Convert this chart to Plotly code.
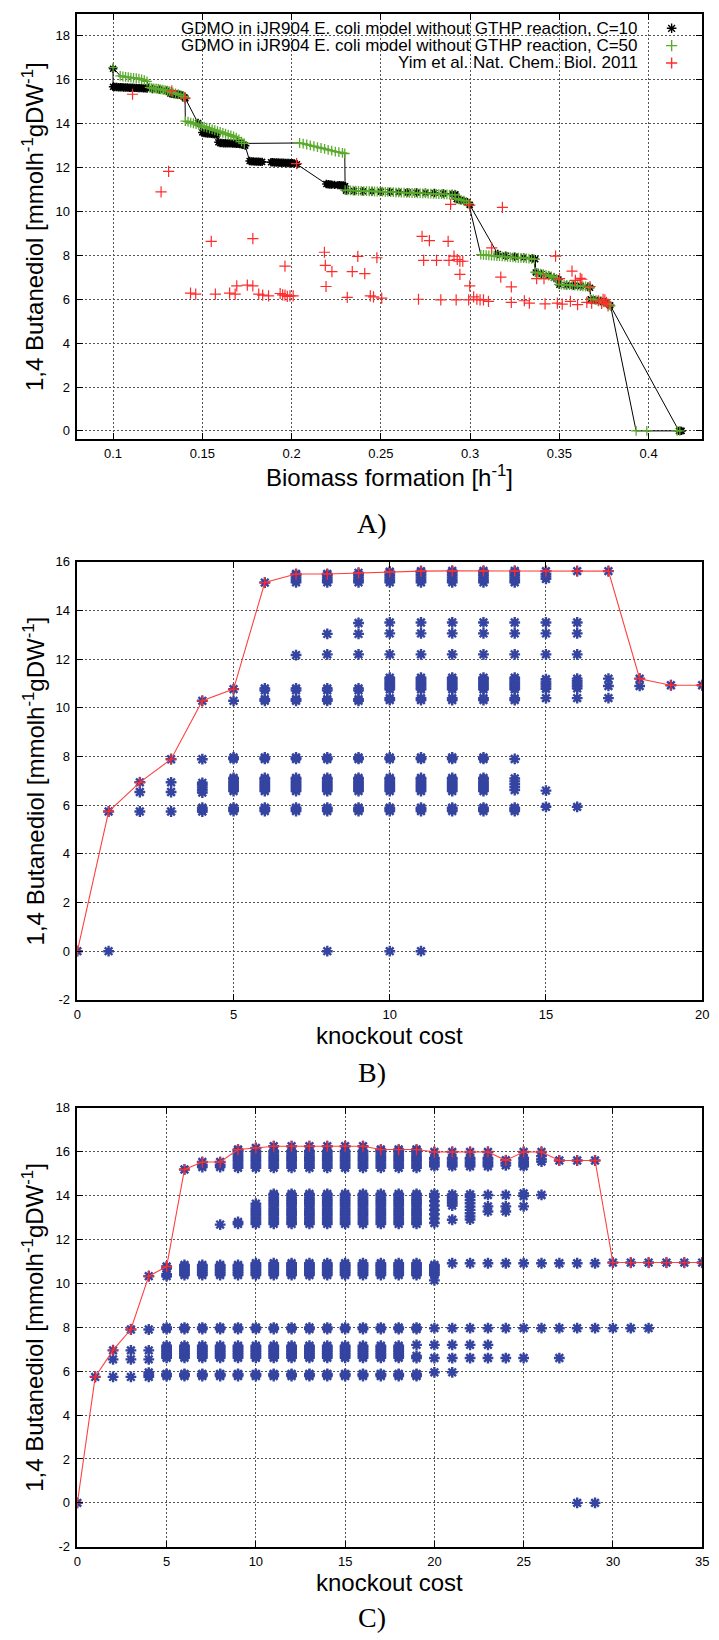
import plotly.graph_objects as go

# ---------------------------------------------------------------
# Panel A: 1,4-butanediol production vs. biomass formation
# (biomass [1/h], butanediol [mmol/h/gDW])
# ---------------------------------------------------------------
c10_front = [
    (0.1000, 16.50), (0.1000, 15.68), (0.1010, 15.67), (0.1020, 15.67), (0.1030, 15.66),
    (0.1040, 15.66), (0.1050, 15.66), (0.1060, 15.65), (0.1070, 15.65), (0.1080, 15.65),
    (0.1090, 15.64), (0.1100, 15.64), (0.1110, 15.64), (0.1120, 15.63), (0.1130, 15.63),
    (0.1140, 15.62), (0.1150, 15.62), (0.1160, 15.62), (0.1170, 15.61), (0.1180, 15.61),
    (0.1190, 15.60), (0.1220, 15.58), (0.1260, 15.55), (0.1300, 15.50),
    (0.1320, 15.38), (0.1330, 15.36), (0.1340, 15.35), (0.1350, 15.34), (0.1360, 15.33),
    (0.1370, 15.32), (0.1380, 15.30), (0.1390, 15.27), (0.1400, 15.20), (0.1405, 15.15),
    (0.1476, 14.03),
    (0.1500, 13.60), (0.1510, 13.57), (0.1520, 13.56), (0.1530, 13.55), (0.1540, 13.55),
    (0.1550, 13.54), (0.1560, 13.53), (0.1570, 13.52), (0.1580, 13.50),
    (0.1590, 13.15), (0.1600, 13.12), (0.1610, 13.12), (0.1620, 13.11), (0.1630, 13.11),
    (0.1640, 13.10), (0.1650, 13.10), (0.1660, 13.10), (0.1670, 13.09), (0.1680, 13.09),
    (0.1690, 13.08), (0.1700, 13.08), (0.1710, 13.07), (0.1720, 13.06), (0.1730, 13.05),
    (0.1740, 13.00),
    (0.1765, 12.30), (0.1775, 12.28), (0.1785, 12.28), (0.1795, 12.27), (0.1805, 12.27),
    (0.1815, 12.27), (0.1825, 12.26), (0.1835, 12.26),
    (0.1885, 12.24), (0.1895, 12.24), (0.1905, 12.23), (0.1915, 12.23), (0.1925, 12.23),
    (0.1935, 12.22), (0.1945, 12.22), (0.1955, 12.22), (0.1965, 12.21), (0.1975, 12.21),
    (0.1985, 12.21), (0.1995, 12.20), (0.2005, 12.20), (0.2015, 12.19), (0.2030, 12.15),
    (0.2195, 11.25), (0.2205, 11.24), (0.2215, 11.23), (0.2225, 11.22), (0.2240, 11.21),
    (0.2260, 11.20), (0.2270, 11.20), (0.2280, 11.19), (0.2290, 11.18), (0.2300, 11.15),
    (0.2305, 10.95), (0.2350, 10.93), (0.2400, 10.92), (0.2450, 10.91), (0.2500, 10.90),
    (0.2550, 10.89), (0.2600, 10.88), (0.2650, 10.87), (0.2700, 10.86), (0.2750, 10.85),
    (0.2800, 10.84), (0.2850, 10.82), (0.2900, 10.80), (0.2918, 10.78),
    (0.2925, 10.56), (0.2945, 10.52), (0.2965, 10.48), (0.2985, 10.42), (0.2998, 10.30),
    (0.3155, 8.06), (0.3200, 7.98), (0.3250, 7.94), (0.3300, 7.90), (0.3350, 7.86), (0.3365, 7.82),
    (0.3368, 7.22), (0.3400, 7.15), (0.3440, 7.08), (0.3470, 6.98), (0.3495, 6.90),
    (0.3500, 6.66), (0.3540, 6.64), (0.3580, 6.62), (0.3620, 6.60), (0.3660, 6.57), (0.3672, 6.52),
    (0.3676, 6.00), (0.3700, 5.96), (0.3730, 5.92), (0.3760, 5.86), (0.3785, 5.72),
    (0.4170, 0.00), (0.4180, 0.00), (0.4185, 0.00),
]

c50_front = [
    (0.1000, 16.55), (0.1040, 16.18), (0.1055, 16.15), (0.1070, 16.13), (0.1085, 16.12),
    (0.1100, 16.10), (0.1115, 16.09), (0.1130, 16.07), (0.1145, 16.05), (0.1160, 16.02),
    (0.1175, 15.98), (0.1190, 15.93),
    (0.1205, 15.65), (0.1215, 15.62), (0.1225, 15.61), (0.1235, 15.60), (0.1245, 15.59),
    (0.1255, 15.58), (0.1265, 15.56), (0.1275, 15.55), (0.1285, 15.53), (0.1295, 15.52),
    (0.1305, 15.50), (0.1315, 15.48), (0.1325, 15.46), (0.1335, 15.42), (0.1350, 15.38),
    (0.1365, 15.34), (0.1380, 15.30), (0.1395, 15.24), (0.1403, 15.18),
    (0.1405, 14.12), (0.1420, 14.09), (0.1435, 14.05), (0.1450, 14.02), (0.1465, 13.98),
    (0.1480, 13.94), (0.1495, 13.90), (0.1510, 13.86), (0.1525, 13.82), (0.1540, 13.78),
    (0.1555, 13.74), (0.1570, 13.70), (0.1585, 13.66), (0.1600, 13.62), (0.1615, 13.58),
    (0.1630, 13.54), (0.1645, 13.50), (0.1660, 13.46), (0.1675, 13.42), (0.1690, 13.36),
    (0.1705, 13.28), (0.1720, 13.18), (0.1735, 13.10),
    (0.2045, 13.12), (0.2065, 13.09), (0.2085, 13.05), (0.2105, 13.01), (0.2125, 12.97),
    (0.2145, 12.93), (0.2165, 12.89), (0.2185, 12.85), (0.2205, 12.81), (0.2225, 12.77),
    (0.2245, 12.73), (0.2265, 12.70), (0.2285, 12.67), (0.2298, 12.64),
    (0.2300, 10.97), (0.2315, 10.96), (0.2330, 10.96), (0.2345, 10.95), (0.2360, 10.95),
    (0.2375, 10.94), (0.2390, 10.94), (0.2405, 10.93), (0.2420, 10.93), (0.2435, 10.92),
    (0.2450, 10.92), (0.2465, 10.91), (0.2480, 10.91), (0.2495, 10.90), (0.2510, 10.90),
    (0.2525, 10.89), (0.2540, 10.89), (0.2555, 10.88), (0.2570, 10.88), (0.2585, 10.87),
    (0.2600, 10.87), (0.2615, 10.86), (0.2630, 10.86), (0.2645, 10.85), (0.2660, 10.85),
    (0.2675, 10.84), (0.2690, 10.84), (0.2705, 10.83), (0.2720, 10.83), (0.2735, 10.82),
    (0.2750, 10.82), (0.2765, 10.81), (0.2780, 10.81), (0.2795, 10.80), (0.2810, 10.80),
    (0.2825, 10.79), (0.2840, 10.79), (0.2855, 10.78), (0.2870, 10.78), (0.2885, 10.77),
    (0.2900, 10.77), (0.2915, 10.76),
    (0.2920, 10.58), (0.2935, 10.55), (0.2950, 10.52), (0.2965, 10.49), (0.2980, 10.44),
    (0.2992, 10.36),
    (0.3060, 8.03), (0.3075, 8.02), (0.3090, 8.01), (0.3105, 8.00), (0.3120, 7.99),
    (0.3135, 7.98), (0.3150, 7.97), (0.3165, 7.96), (0.3180, 7.95), (0.3195, 7.94),
    (0.3210, 7.93), (0.3225, 7.92), (0.3240, 7.91), (0.3255, 7.90), (0.3270, 7.89),
    (0.3285, 7.88), (0.3300, 7.87), (0.3315, 7.86), (0.3330, 7.85), (0.3345, 7.84),
    (0.3360, 7.82),
    (0.3365, 7.23), (0.3380, 7.20), (0.3395, 7.17), (0.3410, 7.14), (0.3425, 7.11),
    (0.3440, 7.08), (0.3455, 7.04), (0.3470, 6.98), (0.3485, 6.92),
    (0.3497, 6.68), (0.3512, 6.67), (0.3527, 6.66), (0.3542, 6.65), (0.3557, 6.64),
    (0.3572, 6.63), (0.3587, 6.62), (0.3602, 6.61), (0.3617, 6.60), (0.3632, 6.59),
    (0.3647, 6.58), (0.3662, 6.56), (0.3672, 6.53),
    (0.3675, 6.02), (0.3690, 5.99), (0.3705, 5.96), (0.3720, 5.93), (0.3735, 5.90),
    (0.3750, 5.86), (0.3765, 5.81), (0.3780, 5.75), (0.3787, 5.70),
    (0.3930, 0.00), (0.3990, 0.00), (0.4160, 0.00), (0.4175, 0.00),
]

yim_points = [
    (0.1109, 15.34), (0.1329, 15.49), (0.1403, 15.16), (0.1311, 11.83), (0.1269, 10.89),
    (0.1550, 8.64), (0.1783, 8.76), (0.2028, 12.18), (0.2184, 8.14), (0.2189, 7.54),
    (0.2226, 7.26), (0.2340, 7.26), (0.2371, 7.95), (0.2410, 7.17), (0.2478, 7.89),
    (0.1963, 7.51),
    (0.1434, 6.28), (0.1463, 6.23), (0.1573, 6.23), (0.1653, 6.28), (0.1684, 6.23),
    (0.1693, 6.61), (0.1752, 6.64), (0.1783, 6.61), (0.1816, 6.23), (0.1838, 6.19),
    (0.1871, 6.15), (0.1936, 6.26), (0.1950, 6.20), (0.1963, 6.19), (0.1976, 6.13),
    (0.1991, 6.15), (0.2009, 6.15), (0.2193, 6.58), (0.2312, 6.08), (0.2441, 6.15),
    (0.2459, 6.11), (0.2505, 6.05),
    (0.2711, 6.00), (0.2731, 8.86), (0.2772, 8.67), (0.2740, 7.77), (0.2812, 7.77),
    (0.2836, 5.97), (0.2877, 8.64), (0.2882, 7.77), (0.2891, 10.32), (0.2910, 7.96),
    (0.2922, 5.97), (0.2928, 7.81), (0.2943, 7.73), (0.2959, 7.73), (0.2943, 7.13),
    (0.2992, 5.97), (0.2998, 6.61), (0.2998, 10.29), (0.3020, 6.11), (0.3038, 6.00),
    (0.3056, 5.97), (0.3075, 5.97), (0.3103, 5.90), (0.3121, 8.34), (0.3181, 10.19),
    (0.3172, 7.01), (0.3231, 6.56), (0.3231, 5.86), (0.3304, 5.93), (0.3332, 5.82),
    (0.3373, 6.94), (0.3414, 6.94), (0.3420, 5.79), (0.3479, 7.96), (0.3489, 5.82),
    (0.3501, 6.94), (0.3516, 5.78), (0.3562, 5.90), (0.3571, 7.28), (0.3590, 6.86),
    (0.3602, 5.75), (0.3617, 6.95), (0.3626, 6.91), (0.3654, 5.86), (0.3672, 6.58),
    (0.3681, 5.82), (0.3718, 5.93), (0.3745, 6.00), (0.3764, 5.86), (0.3773, 5.70),
    (0.3755, 5.97), (0.3737, 5.81),
]

# ---------------------------------------------------------------
# Panel B: butanediol yield vs. knockout cost (GDMO run, costs 0-20)
# ---------------------------------------------------------------
b_costs = [0, 1, 2, 3, 4, 5, 6, 7, 8, 9, 10, 11, 12, 13, 14, 15, 16, 17, 18, 19, 20]
b_best = [0.00, 5.74, 6.94, 7.89, 10.29, 10.77, 15.15, 15.50, 15.50, 15.55, 15.60,
          15.62, 15.63, 15.63, 15.63, 15.62, 15.62, 15.62, 11.20, 10.93, 10.93]

b_low = [5.76, 5.84, 5.90]
b_mid = [6.58, 6.66, 6.74, 6.82, 6.90, 6.98, 7.06, 7.12]
b_eight = [7.90, 7.96]
b_ten = [10.29, 10.36, 10.72, 10.80]
b_ten_wide = [10.32, 10.40, 10.76, 10.84, 10.92, 11.00, 11.08, 11.16, 11.24]
b_upper = [12.20, 13.06, 13.51]
b_top7 = [15.16, 15.26, 15.36, 15.46]
b_top10 = [15.16, 15.26, 15.36, 15.46, 15.56]

b_yields = [
    [0.00],
    [0.00, 5.74],
    [5.74, 6.54, 6.94],
    [5.74, 6.54, 6.94, 7.89],
    [5.74, 5.82, 5.90, 6.52, 6.62, 6.72, 6.82, 6.92, 7.89, 10.29],
    b_low + b_mid + b_eight + [10.29, 10.77],
    b_low + b_mid + b_eight + b_ten + [15.15],
    b_low + b_mid + b_eight + b_ten + [12.17] + b_top7 + [15.50],
    [0.00] + b_low + b_mid + b_eight + b_ten + [12.20, 13.04] + b_top7 + [15.50],
    b_low + b_mid + b_eight + b_ten + [12.20, 13.04, 13.49] + b_top7 + [15.55],
    [0.00] + b_low + b_mid + b_eight + b_ten_wide + b_upper + b_top10 + [15.60],
    [0.00] + b_low + b_mid + b_eight + b_ten_wide + b_upper + b_top10 + [15.62],
    b_low + b_mid + b_eight + b_ten_wide + b_upper + b_top10 + [15.63],
    b_low + b_mid + b_eight + b_ten_wide + b_upper + b_top10 + [15.63],
    b_low + [6.62, 6.74, 6.86, 6.98, 7.10, 7.90] + b_ten_wide + b_upper + b_top10 + [15.63],
    [5.93, 6.60, 10.40, 10.78, 10.88, 10.98, 11.08, 11.18] + b_upper + [15.30, 15.40, 15.50, 15.62],
    [5.93, 10.40, 10.80, 10.90, 11.00, 11.10, 11.20] + b_upper + [15.62],
    [10.40, 10.90, 11.20, 15.62],
    [10.90, 11.20],
    [10.93],
    [10.93],
]

# ---------------------------------------------------------------
# Panel C: butanediol yield vs. knockout cost (GDMO run, costs 0-35)
# ---------------------------------------------------------------
c_costs = list(range(36))
c_best = [0.00, 5.74, 6.96, 7.91, 10.33, 10.77, 15.19, 15.53, 15.53, 16.10, 16.17,
          16.25, 16.25, 16.25, 16.25, 16.25, 16.25, 16.10, 16.10, 16.10, 15.99, 15.99,
          15.99, 15.99, 15.61, 15.99, 15.99, 15.60, 15.60, 15.60, 10.95, 10.95, 10.95,
          10.95, 10.95, 10.95]

c_low = [5.78, 5.84, 5.88]
c_mid = [6.61, 6.69, 6.77, 6.85, 6.93, 7.01, 7.09, 7.16]
c_eight = [7.92, 7.99]
c_ten = [10.38, 10.46, 10.54, 10.62, 10.70, 10.78, 10.84]
c_upper = [12.71, 12.81, 12.91, 13.01, 13.11, 13.21, 13.31, 13.41, 13.51, 13.61,
           13.71, 13.81, 13.91, 14.01, 14.08]
c_top = [15.27, 15.37, 15.47, 15.57, 15.67, 15.77, 15.87, 15.97, 16.04]
c_top_late = [15.34, 15.44, 15.54, 15.64, 15.72]

c_yields = [
    [0.00],
    [5.74],
    [5.74, 6.54, 6.95],
    [5.74, 6.54, 6.95, 7.90],
    [5.74, 5.84, 5.94, 6.54, 6.95, 7.90, 10.33],
    c_low + c_mid + c_eight + [10.33, 10.42, 10.68, 10.77],
    c_low + c_mid + c_eight + c_ten + [15.19],
    c_low + c_mid + c_eight + c_ten + [15.30, 15.40, 15.53],
    c_low + c_mid + c_eight + c_ten + [12.68, 15.30, 15.40, 15.53],
    c_low + c_mid + c_eight + c_ten + [12.71, 12.80] + c_top + [16.10],
    c_low + c_mid + c_eight + c_ten + [10.92, 12.71, 12.81, 12.91, 13.01, 13.11, 13.21,
                                       13.31, 13.41, 13.51, 13.63] + c_top + [16.17],
    c_low + c_mid + c_eight + c_ten + [10.92] + c_upper + c_top + [16.25],
    c_low + c_mid + c_eight + c_ten + [10.92] + c_upper + c_top + [16.25],
    c_low + c_mid + c_eight + c_ten + [10.92] + c_upper + c_top + [16.25],
    c_low + c_mid + c_eight + c_ten + [10.92] + c_upper + c_top + [16.25],
    c_low + c_mid + c_eight + c_ten + [10.92] + c_upper + c_top + [16.25],
    c_low + c_mid + c_eight + c_ten + [10.92] + c_upper + c_top + [16.25],
    c_low + c_mid + c_eight + c_ten + [10.92] + c_upper + c_top + [16.10],
    c_low + c_mid + c_eight + c_ten + [10.92] + c_upper + c_top + [16.10],
    c_low + [6.60, 6.70, 7.20] + c_eight + c_ten + [10.92] + c_upper + c_top + [16.10],
    [5.95, 6.60, 7.20, 7.96, 10.14] + c_ten + [12.75, 12.95, 13.15, 13.35, 13.55, 13.75,
                                              13.95, 14.08] + c_top_late + [15.99],
    [5.95, 6.60, 7.20, 7.96, 10.92, 12.90, 13.55, 13.65, 13.75, 13.85, 13.95, 14.05]
    + c_top_late + [15.99],
    [6.60, 7.20, 7.96, 10.92, 12.91, 13.05, 13.20, 13.35, 13.50, 13.65, 13.80, 13.95, 14.05]
    + c_top_late + [15.99],
    [6.60, 7.20, 7.96, 10.92, 13.28, 13.51, 14.03] + c_top_late + [15.99],
    [6.60, 7.96, 10.92, 13.28, 13.51, 14.03, 15.38, 15.48, 15.61],
    [6.60, 7.96, 10.92, 13.51, 13.98, 14.10] + c_top_late + [15.99],
    [7.96, 10.92, 14.03, 15.55, 15.65, 15.80, 15.99],
    [6.60, 7.96, 10.92, 15.60],
    [0.00, 7.96, 10.92, 15.60],
    [0.00, 7.96, 10.92, 15.60],
    [7.96, 10.95],
    [7.96, 10.95],
    [7.96, 10.95],
    [10.95],
    [10.95],
    [10.95],
]

legend_labels = [
    "GDMO in iJR904 E. coli model without GTHP reaction, C=10",
    "GDMO in iJR904 E. coli model without GTHP reaction, C=50",
    "Yim et al. Nat. Chem. Biol. 2011",
]

# ---------------------------------------------------------------
# styling
# ---------------------------------------------------------------
W, H = 719, 1640
SANS = "Liberation Sans, Arial, Helvetica, sans-serif"
SERIF = "Liberation Serif, Times New Roman, serif"
BLACK = "#000000"
GREEN = "#5aab2c"
RED = "#ff2a2a"
BLUE = "#3444a0"
LINE_RED = "#ff4040"

X_LEFT, X_RIGHT = 74.5, 709.0
PANELS = {"A": (7.0, 436.0), "B": (560.0, 1002.0), "C": (1111.0, 1554.0)}


def fx(px):
    return px / W


def fy(py):
    return 1 - py / H


def ydom(name):
    top, bottom = PANELS[name]
    return [fy(bottom), fy(top)]


def unzip(points):
    return [p[0] for p in points], [p[1] for p in points]


def spread(costs, columns):
    xs, ys = [], []
    for cost, col in zip(costs, columns):
        xs.extend([cost] * len(col))
        ys.extend(col)
    return xs, ys


fig = go.Figure()

# Panel A traces
c10_x, c10_y = unzip(c10_front)
c50_x, c50_y = unzip(c50_front)
yim_x, yim_y = unzip(yim_points)

fig.add_trace(go.Scatter(
    x=c10_x, y=c10_y, mode="lines+markers", xaxis="x", yaxis="y",
    line=dict(color=BLACK, width=1),
    marker=dict(symbol="asterisk-open", size=7, color=BLACK,
                line=dict(color=BLACK, width=1.6)),
    showlegend=False, name=legend_labels[0]))
fig.add_trace(go.Scatter(
    x=c50_x, y=c50_y, mode="lines+markers", xaxis="x", yaxis="y",
    line=dict(color=BLACK, width=1),
    marker=dict(symbol="cross-thin-open", size=7, color=GREEN,
                line=dict(color=GREEN, width=1.3)),
    showlegend=False, name=legend_labels[1]))
fig.add_trace(go.Scatter(
    x=yim_x, y=yim_y, mode="markers", xaxis="x", yaxis="y",
    marker=dict(symbol="cross-thin-open", size=8, color=RED,
                line=dict(color=RED, width=1.2)),
    showlegend=False, name=legend_labels[2]))

# Panels B and C traces
for costs, columns, best, xa, ya in [
    (b_costs, b_yields, b_best, "x2", "y2"),
    (c_costs, c_yields, c_best, "x3", "y3"),
]:
    sx, sy = spread(costs, columns)
    fig.add_trace(go.Scatter(
        x=sx, y=sy, mode="markers", xaxis=xa, yaxis=ya,
        marker=dict(symbol="asterisk-open", size=9, color=BLUE,
                    line=dict(color=BLUE, width=2.4)),
        showlegend=False))
    fig.add_trace(go.Scatter(
        x=costs, y=best, mode="lines+markers", xaxis=xa, yaxis=ya,
        line=dict(color=LINE_RED, width=1.1),
        marker=dict(symbol="cross-thin-open", size=8, color=RED,
                    line=dict(color=RED, width=1.3)),
        showlegend=False))

# key samples for panel A, on a pixel-scaled axis pair overlaying panel A
key_x = [678, 678, 678]
key_y = [21.5, 39.0, 56.5]
key_symbols = ["asterisk-open", "cross-thin-open", "cross-thin-open"]
key_colors = [BLACK, GREEN, RED]
for kx, ky, ks, kc in zip(key_x, key_y, key_symbols, key_colors):
    fig.add_trace(go.Scatter(
        x=[kx], y=[ky], mode="markers", xaxis="x4", yaxis="y4",
        marker=dict(symbol=ks, size=8, color=kc, line=dict(color=kc, width=1.4)),
        showlegend=False, hoverinfo="skip"))

axis_common = dict(
    showline=True, linecolor=BLACK, linewidth=1.6, mirror="ticks",
    ticks="inside", ticklen=6, tickwidth=1, tickcolor=BLACK,
    showgrid=True, gridcolor="#555555", gridwidth=1, griddash="2px,2px",
    zeroline=False, tickfont=dict(family=SANS, size=13, color=BLACK),
    fixedrange=True,
)

xdom = [fx(X_LEFT), fx(X_RIGHT)]

a_xticks = [0.1, 0.15, 0.2, 0.25, 0.3, 0.35, 0.4]
a_yticks = [0, 2, 4, 6, 8, 10, 12, 14, 16, 18]
b_xticks = [0, 5, 10, 15, 20]
b_yticks = [-2, 0, 2, 4, 6, 8, 10, 12, 14, 16]
c_xticks = [0, 5, 10, 15, 20, 25, 30, 35]
c_yticks = [-2, 0, 2, 4, 6, 8, 10, 12, 14, 16, 18]


def labels(vals):
    return [("%g" % v) for v in vals]


top_a, bottom_a = PANELS["A"]
fig.update_layout(
    width=W, height=H, autosize=False,
    margin=dict(l=0, r=0, t=0, b=0, pad=0),
    paper_bgcolor="white", plot_bgcolor="rgba(0,0,0,0)",
    showlegend=False,
    xaxis=dict(axis_common, domain=xdom, anchor="y", range=[0.08, 0.43],
               tickvals=a_xticks, ticktext=labels(a_xticks), ticklabelstandoff=2),
    yaxis=dict(axis_common, domain=ydom("A"), anchor="x", range=[-0.37, 19.0],
               tickvals=a_yticks, ticktext=labels(a_yticks), ticklabelstandoff=3),
    xaxis2=dict(axis_common, domain=xdom, anchor="y2", range=[0, 20],
                tickvals=b_xticks, ticktext=labels(b_xticks), ticklabelstandoff=2),
    yaxis2=dict(axis_common, domain=ydom("B"), anchor="x2", range=[-2, 16],
                tickvals=b_yticks, ticktext=labels(b_yticks), ticklabelstandoff=3),
    xaxis3=dict(axis_common, domain=xdom, anchor="y3", range=[0, 35],
                tickvals=c_xticks, ticktext=labels(c_xticks), ticklabelstandoff=2),
    yaxis3=dict(axis_common, domain=ydom("C"), anchor="x3", range=[-2, 18],
                tickvals=c_yticks, ticktext=labels(c_yticks), ticklabelstandoff=3),
    xaxis4=dict(overlaying="x", anchor="y4", range=[X_LEFT, X_RIGHT],
                visible=False, fixedrange=True),
    yaxis4=dict(overlaying="y", anchor="x4", range=[bottom_a, top_a],
                visible=False, fixedrange=True),
)

ytitle = "1,4 Butanediol [mmolh<sup>-1</sup>gDW<sup>-1</sup>]"
center_x = (X_LEFT + X_RIGHT) / 2
annotations = []


def text_at(px, py, text, size, family=SANS, angle=0, xanchor="center"):
    annotations.append(dict(
        x=fx(px), y=fy(py), xref="paper", yref="paper", text=text,
        showarrow=False, textangle=angle, xanchor=xanchor, yanchor="middle",
        font=dict(family=family, size=size, color=BLACK)))


# axis titles
text_at(center_x, 473, "Biomass formation [h<sup>-1</sup>]", 24)
text_at(center_x, 1038, "knockout cost", 24)
text_at(center_x, 1590, "knockout cost", 24)
for name in ("A", "B", "C"):
    top, bottom = PANELS[name]
    text_at(30, (top + bottom) / 2, ytitle, 24, angle=-90)

# panel captions
text_at(374, 521, "A)", 28, family=SERIF)
text_at(374, 1075, "B)", 28, family=SERIF)
text_at(374, 1625, "C)", 28, family=SERIF)

# key text for panel A
for label, ky in zip(legend_labels, key_y):
    text_at(646, ky, label, 17, xanchor="right")

fig.update_layout(annotations=annotations)

fig.write_html("out.html")
